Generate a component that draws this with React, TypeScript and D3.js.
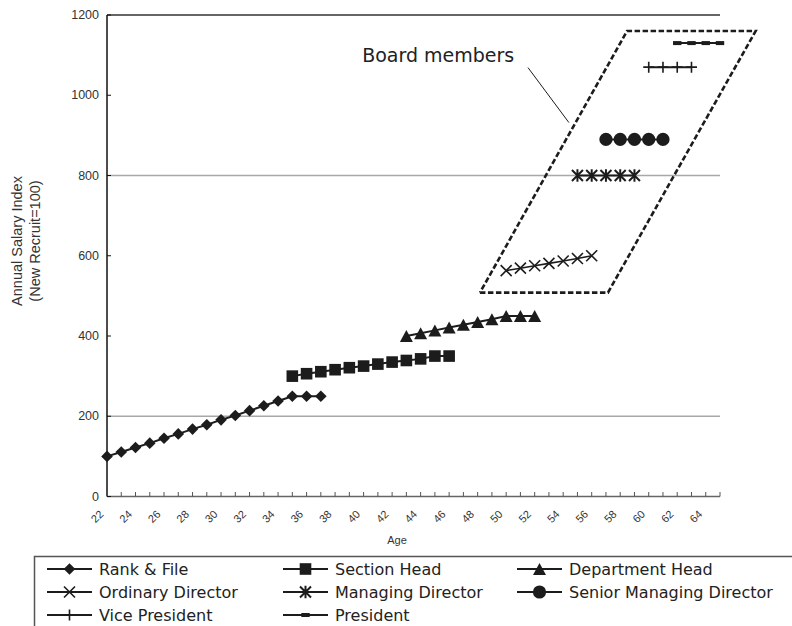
import React from "react";
import * as d3 from "d3";

// ---------- data ----------
const rankFileAges = [22, 23, 24, 25, 26, 27, 28, 29, 30, 31, 32, 33, 34, 35, 36, 37];
const rankFileVals = [100, 111, 122, 133, 145, 156, 168, 179, 191, 202, 214, 226, 238, 250, 250, 250];
const sectionAges = [35, 36, 37, 38, 39, 40, 41, 42, 43, 44, 45, 46];
const sectionVals = [300, 306, 311, 316, 321, 325, 330, 335, 339, 343, 350, 350];
const deptAges = [43, 44, 45, 46, 47, 48, 49, 50, 51, 52];
const deptVals = [400, 407, 414, 421, 428, 435, 442, 450, 450, 450];
const ordDirAges = [50, 51, 52, 53, 54, 55, 56];
const ordDirVals = [563, 569, 575, 581, 587, 593, 600];
const mngDirAges = [55, 56, 57, 58, 59];
const mngDirVals = [800, 800, 800, 800, 800];
const srMngAges = [57, 58, 59, 60, 61];
const srMngVals = [890, 890, 890, 890, 890];
const vpAges = [60, 61, 62, 63];
const vpVals = [1070, 1070, 1070, 1070];
const presAges = [62, 63, 64, 65];
const presVals = [1130, 1130, 1130, 1130];

const seriesNames = [
  "Rank & File", "Section Head", "Department Head",
  "Ordinary Director", "Managing Director", "Senior Managing Director",
  "Vice President", "President",
];
const markerKinds = ["diamond", "square", "triangle", "x", "asterisk", "circle", "plus", "dash"];
const seriesAges = [rankFileAges, sectionAges, deptAges, ordDirAges, mngDirAges, srMngAges, vpAges, presAges];
const seriesVals = [rankFileVals, sectionVals, deptVals, ordDirVals, mngDirVals, srMngVals, vpVals, presVals];

const yTicks = [0, 200, 400, 600, 800, 1000, 1200];
const yGrid = [200, 800];
const xLabelAges = [22, 24, 26, 28, 30, 32, 34, 36, 38, 40, 42, 44, 46, 48, 50, 52, 54, 56, 58, 60, 62, 64];
const ageMin = 22;
const ageMax = 65;

// annotation (data units: age, index)
const boardPoly: [number, number][] = [[48.16, 508], [57.14, 508], [67.5, 1160], [58.48, 1160]];
const leader: [number, number][] = [[51.53, 1069], [54.4, 932]];
const boardLabel = { age: 39.9, val: 1082, text: "Board members" };

// ---------- layout ----------
const W = 792, H = 626;
const x = d3.scaleLinear().domain([ageMin, ageMax]).range([107, 720]);
const y = d3.scaleLinear().domain([0, 1200]).range([496.5, 15]);

const INK = "#1c1c1c";
const SANS = "'Liberation Sans', Arial, sans-serif";
const LEG = "'DejaVu Sans', 'Liberation Sans', sans-serif";

function Marker({ kind, cx, cy }: { kind: string; cx: number; cy: number }) {
  switch (kind) {
    case "diamond": {
      const h = 5.8;
      return <path d={`M${cx},${cy - h}L${cx + h},${cy}L${cx},${cy + h}L${cx - h},${cy}Z`} fill={INK} />;
    }
    case "square":
      return <rect x={cx - 5.8} y={cy - 5.8} width={11.6} height={11.6} fill={INK} />;
    case "triangle": {
      const w = 6.5, hh = 6;
      return <path d={`M${cx},${cy - hh}L${cx + w},${cy + hh}L${cx - w},${cy + hh}Z`} fill={INK} />;
    }
    case "x": {
      const h = 5.5;
      return <path d={`M${cx - h},${cy - h}L${cx + h},${cy + h}M${cx - h},${cy + h}L${cx + h},${cy - h}`} stroke={INK} strokeWidth={1.6} fill="none" />;
    }
    case "asterisk": {
      const h = 5.5;
      return <path d={`M${cx - h},${cy - h}L${cx + h},${cy + h}M${cx - h},${cy + h}L${cx + h},${cy - h}M${cx},${cy - h - 0.8}L${cx},${cy + h + 0.8}`} stroke={INK} strokeWidth={2} fill="none" />;
    }
    case "circle":
      return <circle cx={cx} cy={cy} r={6.6} fill={INK} />;
    case "plus": {
      const h = 5.5;
      return <path d={`M${cx - h},${cy}L${cx + h},${cy}M${cx},${cy - h}L${cx},${cy + h}`} stroke={INK} strokeWidth={1.6} fill="none" />;
    }
    case "dash":
      return <rect x={cx - 4.2} y={cy - 2} width={8.4} height={4} fill={INK} />;
    default:
      return null;
  }
}

export default function App() {
  const line = d3.line<[number, number]>().x((d) => x(d[0])).y((d) => y(d[1]));
  const polyPath = line([...boardPoly, boardPoly[0]]) || "";
  const xTickAges = d3.range(ageMin + 1, ageMax + 1);

  const legendCols = [47, 283, 517];
  const legendRows = [569, 592, 615];

  return (
    <svg width={W} height={H} style={{ position: "absolute", left: 0, top: 0, background: "#fff" }}>
      {/* gridlines */}
      {yGrid.map((v) => (
        <line key={v} x1={x(ageMin)} x2={x(ageMax)} y1={y(v)} y2={y(v)} stroke="#a8a8a8" strokeWidth={1.5} />
      ))}
      <line x1={x(ageMin)} x2={x(ageMax)} y1={y(1200)} y2={y(1200)} stroke="#333" strokeWidth={1.3} />

      {/* axes */}
      <line x1={x(ageMin)} x2={x(ageMin)} y1={y(1200)} y2={y(0)} stroke="#111" strokeWidth={1.5} />
      <line x1={x(ageMin)} x2={x(ageMax)} y1={y(0)} y2={y(0)} stroke="#666" strokeWidth={1.5} />
      {yTicks.map((v) => (
        <g key={v}>
          <line x1={x(ageMin)} x2={x(ageMin) + 4} y1={y(v)} y2={y(v)} stroke="#111" strokeWidth={1} />
          <text x={99} y={y(v)} textAnchor="end" dominantBaseline="central" fontFamily={SANS} fontSize={12.5} fill="#333">{v}</text>
        </g>
      ))}
      {xTickAges.map((a) => (
        <line key={a} x1={x(a)} x2={x(a)} y1={y(0)} y2={y(0) - 4.5} stroke="#555" strokeWidth={1} />
      ))}
      {xLabelAges.map((a) => (
        <text key={a} transform={`translate(${x(a) - 5.6},${512}) rotate(-45)`} textAnchor="end" dominantBaseline="central" fontFamily={SANS} fontSize={11} fill="#333">{a}</text>
      ))}
      <text x={397} y={540} textAnchor="middle" dominantBaseline="central" fontFamily={SANS} fontSize={11} fill="#333" style={{ fontStretch: "condensed" }}>Age</text>

      {/* y title */}
      <g transform="translate(17,241) rotate(-90)">
        <text textAnchor="middle" dominantBaseline="central" fontFamily={SANS} fontSize={14.5} fill="#333">Annual Salary Index</text>
      </g>
      <g transform="translate(35,241) rotate(-90)">
        <text textAnchor="middle" dominantBaseline="central" fontFamily={SANS} fontSize={14.5} fill="#333">(New Recruit=100)</text>
      </g>

      {/* annotation */}
      <path d={polyPath} fill="none" stroke={INK} strokeWidth={2.6} strokeDasharray="5.5 2.5" />
      <path d={line(leader) || ""} fill="none" stroke={INK} strokeWidth={1} />
      <text x={x(boardLabel.age)} y={y(boardLabel.val)} fontFamily={LEG} fontSize={19} fill="#222">{boardLabel.text}</text>

      {/* series */}
      {seriesNames.map((name, i) => {
        const pts: [number, number][] = seriesAges[i].map((a, j) => [a, seriesVals[i][j]]);
        return (
          <g key={name}>
            <path d={line(pts) || ""} fill="none" stroke={INK} strokeWidth={i === 3 ? 1.6 : 2} />
            {pts.map((p, j) => (
              <Marker key={j} kind={markerKinds[i]} cx={x(p[0])} cy={y(p[1])} />
            ))}
          </g>
        );
      })}

      {/* legend */}
      <path d={`M${W + 2},556.5H34.5V${H + 2}`} fill="none" stroke="#555" strokeWidth={1.5} />
      {seriesNames.map((name, i) => {
        const cx0 = legendCols[i % 3];
        const cy = legendRows[Math.floor(i / 3)];
        return (
          <g key={name}>
            <line x1={cx0} x2={cx0 + 45} y1={cy} y2={cy} stroke={INK} strokeWidth={2} />
            <Marker kind={markerKinds[i]} cx={cx0 + 22.5} cy={cy} />
            <text x={cx0 + 52} y={cy} dominantBaseline="central" fontFamily={LEG} fontSize={16} fill="#222">{name}</text>
          </g>
        );
      })}
    </svg>
  );
}
